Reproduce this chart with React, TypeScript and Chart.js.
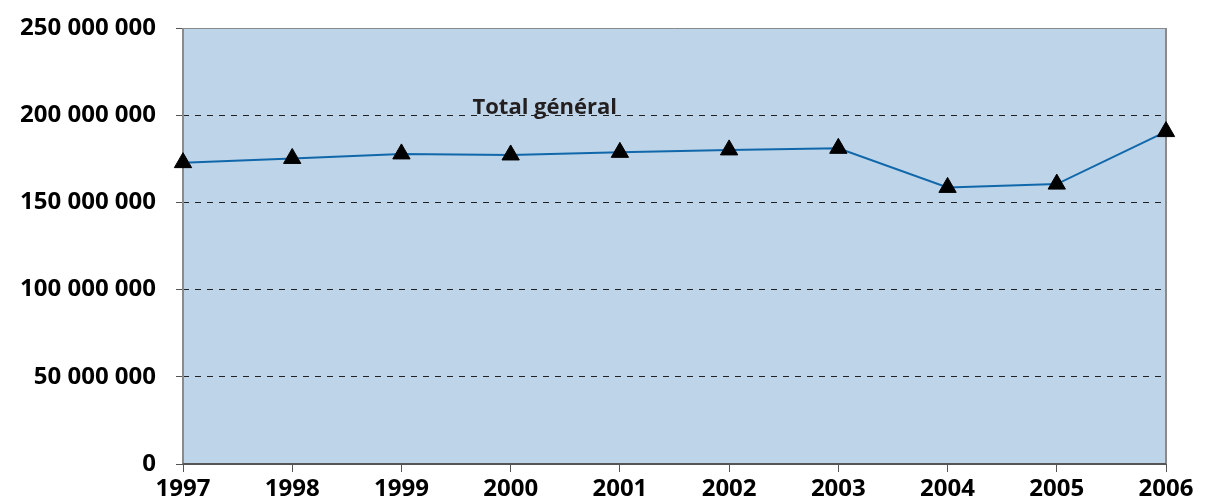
import React, { useEffect, useRef } from "react";
import { Chart, registerables } from "chart.js";

Chart.register(...registerables);

const years = ["1997", "1998", "1999", "2000", "2001", "2002", "2003", "2004", "2005", "2006"];
const totalGeneral = [172800000, 175200000, 177800000, 177200000, 178700000, 180100000, 181000000, 158600000, 160500000, 190600000];
const seriesLabel = "Total général";
const yTicks = [0, 50000000, 100000000, 150000000, 200000000, 250000000];

const fmt = (v: number) => {
  const s = Math.round(v).toString();
  return s.replace(/\B(?=(\d{3})+(?!\d))/g, " ");
};

const FONT = "'Open Sans', 'DejaVu Sans', sans-serif";

const plotPlugin = {
  id: "plotDeco",
  beforeDraw(chart: any) {
    const { ctx, chartArea: a } = chart;
    ctx.save();
    ctx.fillStyle = "#BED4E9";
    ctx.fillRect(a.left, a.top, a.right - a.left, a.bottom - a.top);
    ctx.restore();
  },
  beforeDatasetsDraw(chart: any) {
    const { ctx, chartArea: a } = chart;
    ctx.save();
    ctx.strokeStyle = "#8a8a8a";
    ctx.lineWidth = 1;
    ctx.beginPath();
    ctx.moveTo(a.left, a.top + 0.5);
    ctx.lineTo(a.right, a.top + 0.5);
    ctx.stroke();
    ctx.lineWidth = 2;
    ctx.beginPath();
    ctx.moveTo(a.left, a.top);
    ctx.lineTo(a.left, a.bottom);
    ctx.moveTo(a.right, a.top);
    ctx.lineTo(a.right, a.bottom);
    ctx.stroke();
    ctx.strokeStyle = "#555555";
    ctx.beginPath();
    ctx.moveTo(a.left, a.bottom);
    ctx.lineTo(a.right, a.bottom);
    ctx.stroke();
    // series label
    ctx.fillStyle = "#231f20";
    ctx.font = `bold 22px ${FONT}`;
    ctx.textAlign = "center";
    ctx.textBaseline = "alphabetic";
    const x = a.left + (a.right - a.left) * 0.368;
    ctx.fillText(seriesLabel, x, a.top + 86);
    ctx.restore();
  },
};

export default function App() {
  const ref = useRef<HTMLCanvasElement>(null);
  useEffect(() => {
    if (!ref.current) return;
    const chart = new Chart(ref.current, {
      type: "line",
      data: {
        labels: years,
        datasets: [
          {
            label: seriesLabel,
            data: totalGeneral,
            borderColor: "#1068AA",
            borderWidth: 2,
            pointStyle: "triangle",
            pointRadius: 10,
            pointBackgroundColor: "#000000",
            pointBorderColor: "#000000",
            pointBorderWidth: 1,
            tension: 0,
            clip: false as any,
          },
        ],
      },
      options: {
        animation: false,
        responsive: true,
        maintainAspectRatio: false,
        layout: { padding: { left: 0, right: 39, top: 28, bottom: 0 } },
        plugins: { legend: { display: false }, tooltip: { enabled: false } },
        scales: {
          x: {
            type: "category",
            offset: false,
            grid: { drawOnChartArea: false, drawTicks: true, tickLength: 8, color: "#555555", tickBorderDash: [] },
            border: { display: false },
            ticks: { color: "#000000", font: { family: FONT, size: 24, weight: "bold" }, padding: 3, maxRotation: 0, autoSkip: false },
            afterFit: (s: any) => { s.height = 37; s.paddingLeft = 0; s.paddingRight = 0; },
          },
          y: {
            min: 0,
            max: 250000000,
            afterBuildTicks: (s: any) => { s.ticks = yTicks.map((v) => ({ value: v })); },
            grid: { color: "#222222", lineWidth: 1, tickLength: 7, tickColor: "#555555", tickBorderDash: [] },
            border: { display: false, dash: [6, 6] },
            ticks: {
              color: "#000000",
              font: { family: FONT, size: 24, weight: "bold" },
              padding: 20,
              callback: (v: any) => fmt(Number(v)),
            },
            afterFit: (s: any) => { s.width = 183; s.paddingTop = 0; s.paddingBottom = 0; },
          },
        },
      },
      plugins: [plotPlugin],
    });
    return () => chart.destroy();
  }, []);
  return (
    <div style={{ position: "fixed", left: 0, top: 0, width: 1205, height: 501, background: "#fff" }}>
      <canvas ref={ref} />
    </div>
  );
}
